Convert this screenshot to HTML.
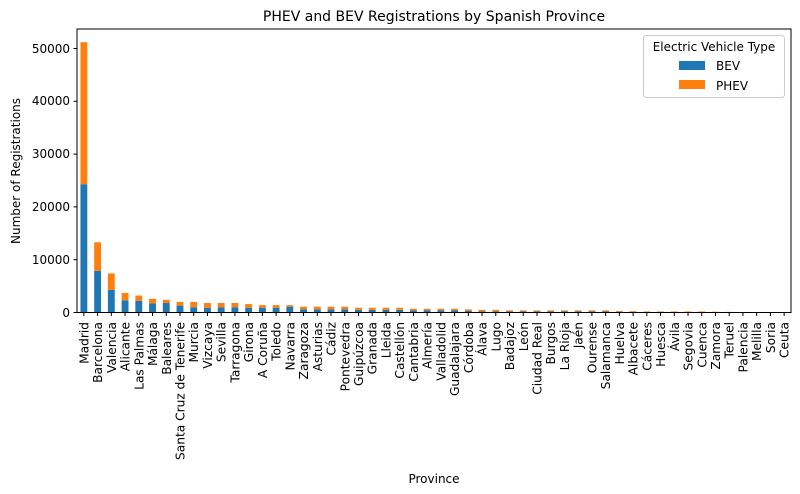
<!DOCTYPE html>
<html><head><meta charset="utf-8"><style>
body{margin:0;background:#fff;}
svg{display:block;font-family:"DejaVu Sans","Liberation Sans",sans-serif;}
</style></head><body>
<svg id="s" width="800" height="494" viewBox="0 0 800 494" xmlns="http://www.w3.org/2000/svg">
<rect width="800" height="494" fill="#fff"/>
<text x="434" y="21" font-size="14" text-anchor="middle" fill="#000">PHEV and BEV Registrations by Spanish Province</text>
<g id="bars"></g>
<rect x="77" y="29" width="714" height="283.5" fill="none" stroke="#000" stroke-width="1"/>
<g font-size="12" fill="#000" text-anchor="end">
<line x1="73.5" y1="312.5" x2="77" y2="312.5" stroke="#000"/><text x="70" y="317">0</text>
<line x1="73.5" y1="259.7" x2="77" y2="259.7" stroke="#000"/><text x="70" y="264">10000</text>
<line x1="73.5" y1="206.9" x2="77" y2="206.9" stroke="#000"/><text x="70" y="211">20000</text>
<line x1="73.5" y1="154.1" x2="77" y2="154.1" stroke="#000"/><text x="70" y="158">30000</text>
<line x1="73.5" y1="101.3" x2="77" y2="101.3" stroke="#000"/><text x="70" y="105">40000</text>
<line x1="73.5" y1="48.5" x2="77" y2="48.5" stroke="#000"/><text x="70" y="53">50000</text>
</g>
<text transform="translate(20,171) rotate(-90)" font-size="12" text-anchor="middle">Number of Registrations</text>
<text x="434" y="483" font-size="12" text-anchor="middle">Province</text>
<g id="labels" font-size="12.2"></g>
<rect x="643.5" y="35.5" width="141" height="62" rx="3" fill="#fff" fill-opacity="0.8" stroke="#ccc"/>
<text x="714" y="51" font-size="12" text-anchor="middle">Electric Vehicle Type</text>
<rect x="679" y="61" width="26" height="9" fill="#1f77b4"/>
<text x="716" y="70" font-size="12">BEV</text>
<rect x="679" y="80" width="26" height="9" fill="#ff7f0e"/>
<text x="716" y="90" font-size="12">PHEV</text>
</svg>
<script>
var names=["Madrid","Barcelona","Valencia","Alicante","Las Palmas","Málaga","Baleares","Santa Cruz de Tenerife","Murcia","Vizcaya","Sevilla","Tarragona","Girona","A Coruña","Toledo","Navarra","Zaragoza","Asturias","Cádiz","Pontevedra","Guipúzcoa","Granada","Lleida","Castellón","Cantabria","Almería","Valladolid","Guadalajara","Córdoba","Álava","Lugo","Badajoz","León","Ciudad Real","Burgos","La Rioja","Jaén","Ourense","Salamanca","Huelva","Albacete","Cáceres","Huesca","Ávila","Segovia","Cuenca","Zamora","Teruel","Palencia","Melilla","Soria","Ceuta"];
var tot=[51.2,13.3,7.4,3.7,3.2,2.6,2.4,2.0,2.0,1.8,1.8,1.8,1.6,1.4,1.4,1.4,1.1,1.1,1.1,1.1,0.9,0.9,0.9,0.9,0.7,0.7,0.7,0.7,0.6,0.5,0.5,0.4,0.4,0.4,0.4,0.4,0.4,0.4,0.4,0.3,0.25,0.2,0.2,0.2,0.2,0.2,0.15,0.12,0.1,0.08,0.06,0.05];
var bev=[24.3,7.9,4.3,2.3,2.2,1.7,1.8,1.3,1.0,0.9,1.0,1.0,0.9,0.9,0.9,1.1,0.6,0.6,0.6,0.6,0.5,0.5,0.5,0.5,0.4,0.4,0.4,0.4,0.3,0.2,0.2,0.2,0.2,0.2,0.2,0.2,0.2,0.2,0.2,0.15,0.1,0.08,0.08,0.08,0.08,0.08,0.06,0.05,0.04,0.03,0.03,0.02];
var k=5.28,b=312.5,sp=714/52,w=sp*0.5,h="",l="";
for(var i=0;i<52;i++){var cx=77+sp*(i+0.5),x=cx-w/2;
var hb=bev[i]*k,ht=tot[i]*k;
h+='<rect x="'+x+'" y="'+(b-hb)+'" width="'+w+'" height="'+hb+'" fill="#1f77b4"/>';
h+='<rect x="'+x+'" y="'+(b-ht)+'" width="'+w+'" height="'+(ht-hb)+'" fill="#ff7f0e"/>';
l+='<line x1="'+cx+'" y1="312.5" x2="'+cx+'" y2="316" stroke="#000"/>';
l+='<text transform="translate('+(cx+4.5)+',322) rotate(-90)" text-anchor="end">'+names[i]+'</text>';}
document.getElementById("bars").innerHTML=h;document.getElementById("labels").innerHTML=l;
</script>
</body></html>
